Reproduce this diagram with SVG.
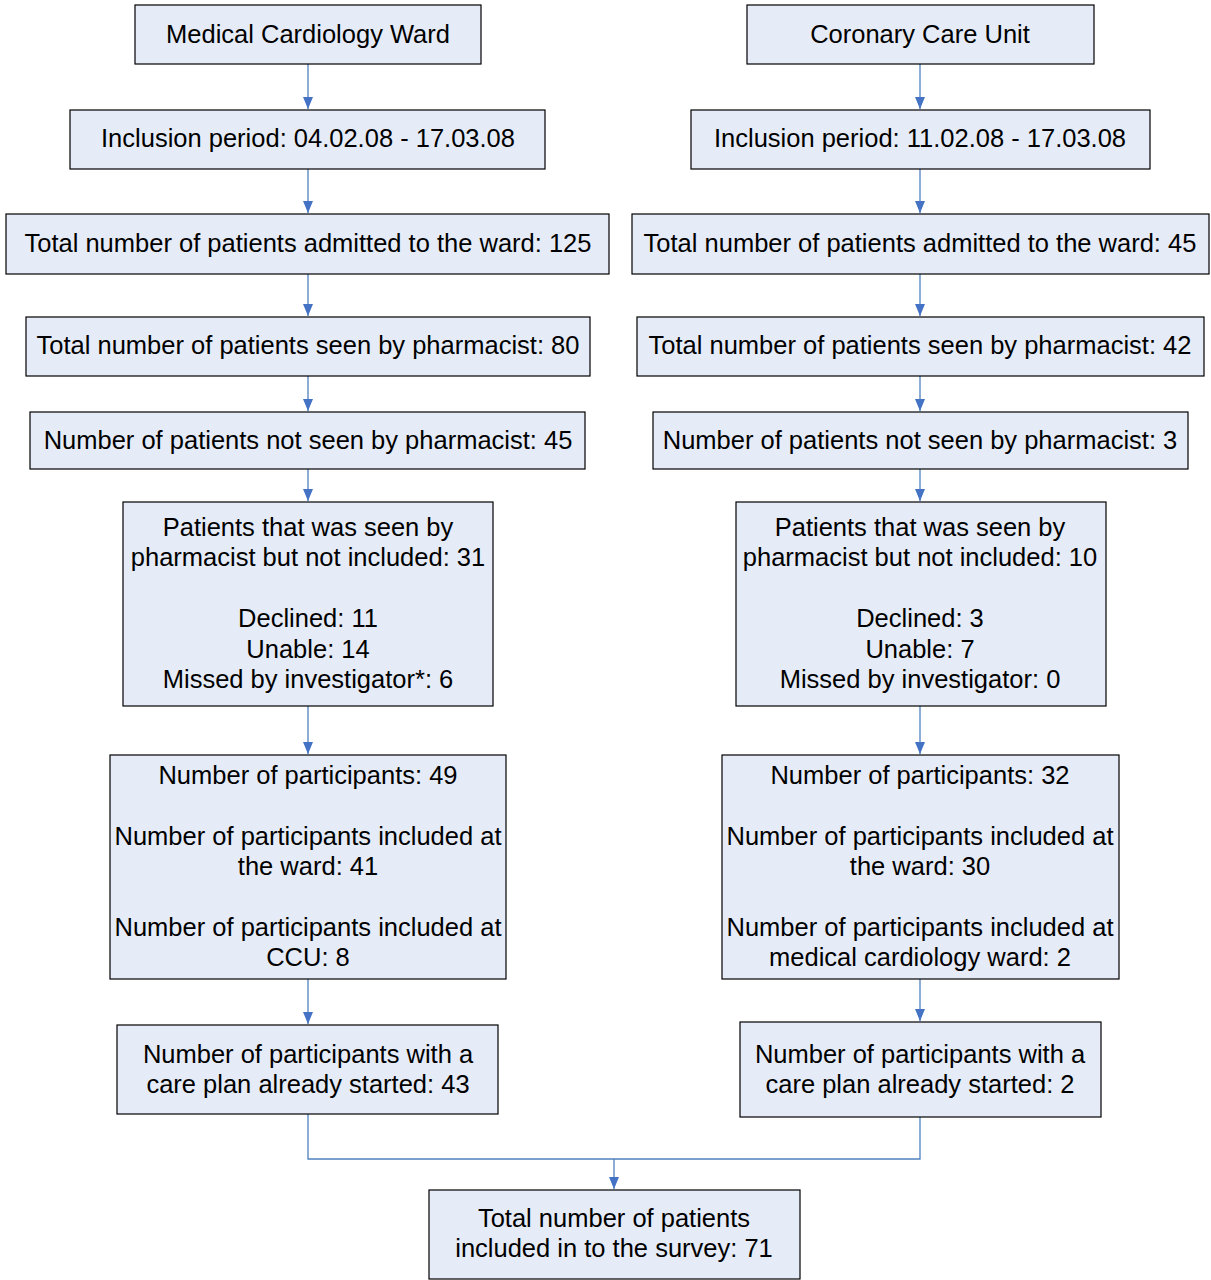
<svg xmlns="http://www.w3.org/2000/svg" width="1211" height="1280" viewBox="0 0 1211 1280">
<style>
.box{fill:#E6ECF7;stroke:#000;stroke-width:1.2}
text{font-family:"Liberation Sans",Arial,sans-serif;font-size:25.5px;fill:#000;text-anchor:middle}
.c{fill:none;stroke:#4F81BD;stroke-width:1.3}
</style>
<defs>
<marker id="ah" markerWidth="12" markerHeight="10" refX="12" refY="5" orient="auto" markerUnits="userSpaceOnUse" viewBox="0 0 12 10">
<path d="M0,0 L12,5 L0,10 Z" fill="#4472C4"/>
</marker>
</defs>
<rect width="1211" height="1280" fill="#fff"/>
<g id="connectors">
<path class="c" d="M308,64 V109" marker-end="url(#ah)"/>
<path class="c" d="M308,169 V213" marker-end="url(#ah)"/>
<path class="c" d="M308,274 V316" marker-end="url(#ah)"/>
<path class="c" d="M308,376 V411" marker-end="url(#ah)"/>
<path class="c" d="M308,469 V501" marker-end="url(#ah)"/>
<path class="c" d="M308,706 V754" marker-end="url(#ah)"/>
<path class="c" d="M308,979 V1024" marker-end="url(#ah)"/>
<path class="c" d="M920,64 V109" marker-end="url(#ah)"/>
<path class="c" d="M920,169 V213" marker-end="url(#ah)"/>
<path class="c" d="M920,274 V316" marker-end="url(#ah)"/>
<path class="c" d="M920,376 V411" marker-end="url(#ah)"/>
<path class="c" d="M920,469 V501" marker-end="url(#ah)"/>
<path class="c" d="M920,706 V754" marker-end="url(#ah)"/>
<path class="c" d="M920,979 V1021" marker-end="url(#ah)"/>
<path class="c" d="M308,1114 V1159 H920 V1117"/>
<path class="c" d="M614,1159 V1189" marker-end="url(#ah)"/>
</g>
<g id="n1"><rect class="box" x="135" y="5" width="346" height="59"/><text x="308" y="43">Medical Cardiology Ward</text></g>
<g id="n2"><rect class="box" x="747" y="5" width="347" height="59"/><text x="920" y="43">Coronary Care Unit</text></g>
<g id="n3"><rect class="box" x="70" y="110" width="475" height="59"/><text x="308" y="147">Inclusion period: 04.02.08 - 17.03.08</text></g>
<g id="n4"><rect class="box" x="691" y="110" width="459" height="59"/><text x="920" y="147">Inclusion period: 11.02.08 - 17.03.08</text></g>
<g id="n5"><rect class="box" x="6" y="214" width="603" height="60"/><text x="308" y="252">Total number of patients admitted to the ward: 125</text></g>
<g id="n6"><rect class="box" x="632" y="214" width="577" height="60"/><text x="920" y="252">Total number of patients admitted to the ward: 45</text></g>
<g id="n7"><rect class="box" x="26" y="317" width="564" height="59"/><text x="308" y="354">Total number of patients seen by pharmacist: 80</text></g>
<g id="n8"><rect class="box" x="637" y="317" width="567" height="59"/><text x="920" y="354">Total number of patients seen by pharmacist: 42</text></g>
<g id="n9"><rect class="box" x="30" y="412" width="555" height="57"/><text x="308" y="449">Number of patients not seen by pharmacist: 45</text></g>
<g id="n10"><rect class="box" x="653" y="412" width="535" height="57"/><text x="920" y="449">Number of patients not seen by pharmacist: 3</text></g>
<g id="n11"><rect class="box" x="123" y="502" width="370" height="204"/>
<text x="308" y="536">Patients that was seen by</text>
<text x="308" y="566">pharmacist but not included: 31</text>
<text x="308" y="627">Declined: 11</text>
<text x="308" y="658">Unable: 14</text>
<text x="308" y="688">Missed by investigator*: 6</text></g>
<g id="n12"><rect class="box" x="736" y="502" width="370" height="204"/>
<text x="920" y="536">Patients that was seen by</text>
<text x="920" y="566">pharmacist but not included: 10</text>
<text x="920" y="627">Declined: 3</text>
<text x="920" y="658">Unable: 7</text>
<text x="920" y="688">Missed by investigator: 0</text></g>
<g id="n13"><rect class="box" x="110" y="755" width="396" height="224"/>
<text x="308" y="784">Number of participants: 49</text>
<text x="308" y="845">Number of participants included at</text>
<text x="308" y="875">the ward: 41</text>
<text x="308" y="936">Number of participants included at</text>
<text x="308" y="966">CCU: 8</text></g>
<g id="n14"><rect class="box" x="722" y="755" width="397" height="224"/>
<text x="920" y="784">Number of participants: 32</text>
<text x="920" y="845">Number of participants included at</text>
<text x="920" y="875">the ward: 30</text>
<text x="920" y="936">Number of participants included at</text>
<text x="920" y="966">medical cardiology ward: 2</text></g>
<g id="n15"><rect class="box" x="117" y="1025" width="381" height="89"/>
<text x="308" y="1063">Number of participants with a</text>
<text x="308" y="1093">care plan already started: 43</text></g>
<g id="n16"><rect class="box" x="740" y="1022" width="361" height="95"/>
<text x="920" y="1063">Number of participants with a</text>
<text x="920" y="1093">care plan already started: 2</text></g>
<g id="n17"><rect class="box" x="429" y="1190" width="371" height="89"/>
<text x="614" y="1227">Total number of patients</text>
<text x="614" y="1257">included in to the survey: 71</text></g>
</svg>
